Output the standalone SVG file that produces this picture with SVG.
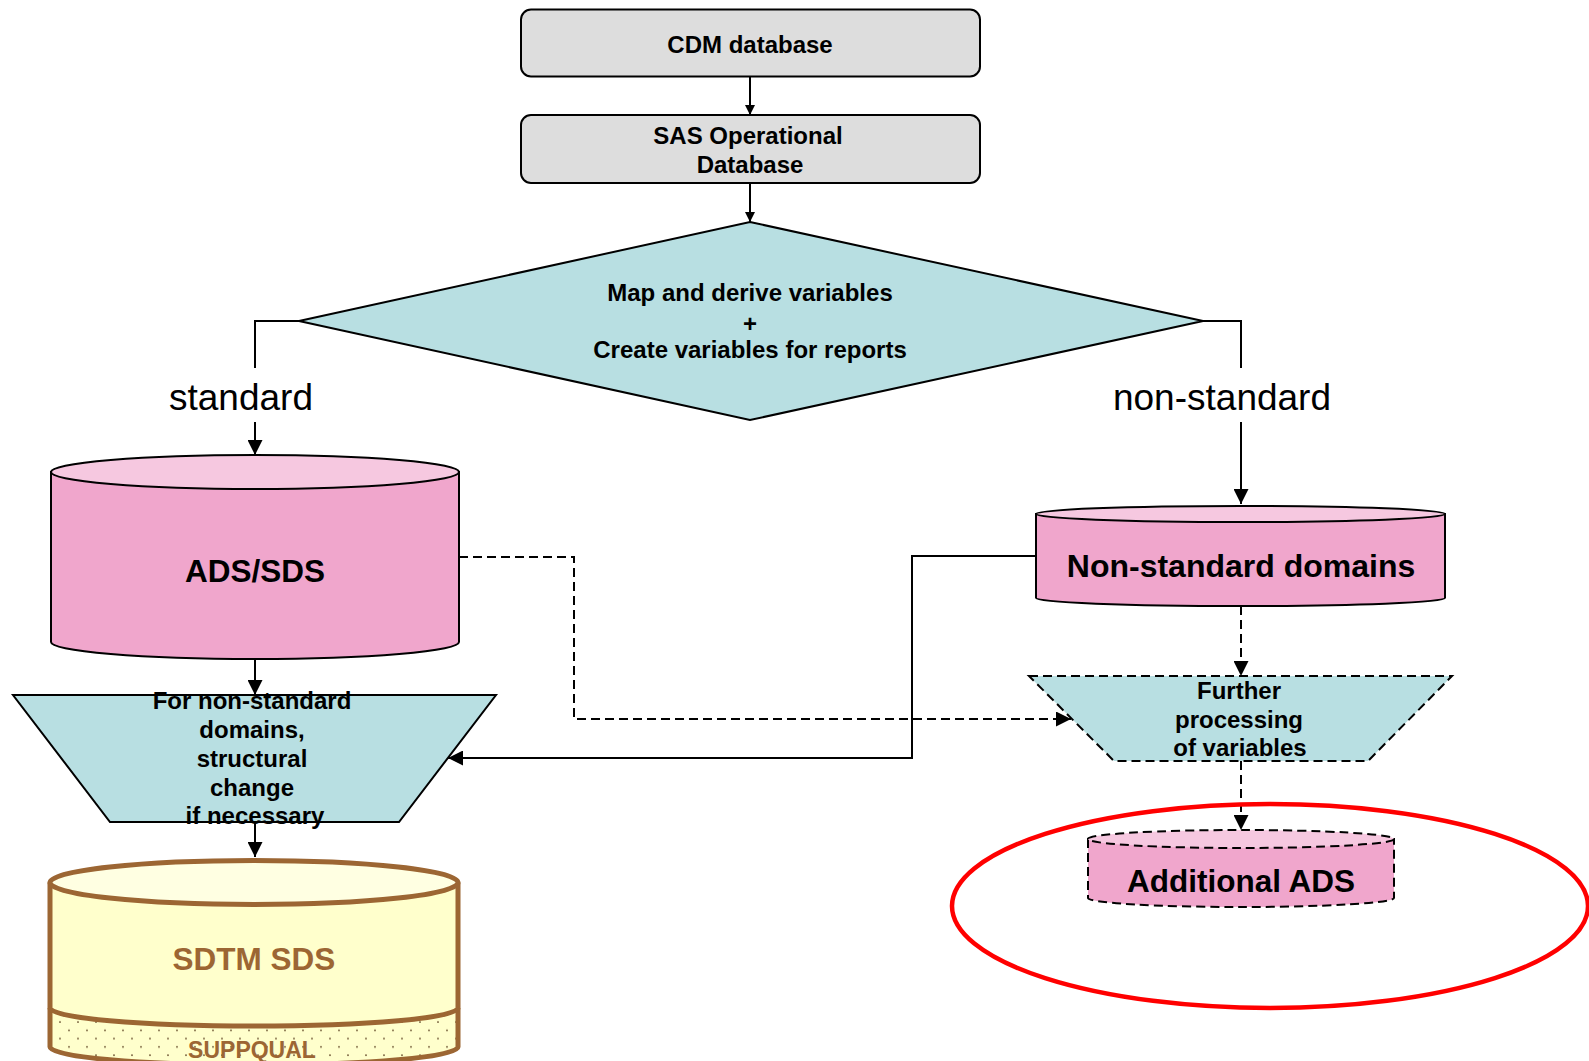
<svg xmlns="http://www.w3.org/2000/svg" width="1589" height="1061" viewBox="0 0 1589 1061">
  <defs>
    <style>
      text { font-family: "Liberation Sans", Arial, sans-serif; text-anchor: middle; fill: #000; }
      .b { font-weight: bold; }
      .t24 { font-size: 24px; }
      .lbl { font-size: 37px; font-weight: normal; }
      .big { font-size: 31.5px; font-weight: bold; }
      .brown { fill: #9C6633; }
      .box { fill: #DDDDDD; stroke: #000; stroke-width: 2; }
      .cyan { fill: #B8DFE2; stroke: #000; stroke-width: 2; }
      .pink { fill: #F0A6CC; stroke: #000; stroke-width: 2; }
      .pinktop { fill: #F6C8E0; stroke: #000; stroke-width: 2; }
      .dash { stroke-dasharray: 9 5; }
      .line { fill: none; stroke: #000; stroke-width: 2; }
      .sdtm { stroke: #9C6633; stroke-width: 5; }
    </style>
    <marker id="ah" viewBox="0 0 10 10" refX="10" refY="5" markerWidth="15" markerHeight="15" markerUnits="userSpaceOnUse" orient="auto">
      <path d="M0,0 L10,5 L0,10 Z" fill="#000"/>
    </marker>
    <marker id="ahs" viewBox="0 0 10 10" refX="10" refY="5" markerWidth="10" markerHeight="10" markerUnits="userSpaceOnUse" orient="auto">
      <path d="M0,0 L10,5 L0,10 Z" fill="#000"/>
    </marker>
    <pattern id="dots" width="18" height="16.6" patternUnits="userSpaceOnUse" x="3" y="1018">
      <rect width="18" height="16.6" fill="#FFFFCC"/>
      <circle cx="3" cy="4" r="0.9" fill="#5a4020"/>
      <circle cx="12" cy="12.3" r="0.9" fill="#5a4020"/>
    </pattern>
  </defs>

  <!-- connectors -->
  <g id="connectors">
    <path class="line" d="M750,77 V115" marker-end="url(#ahs)"/>
    <path class="line" d="M750,183 V222" marker-end="url(#ahs)"/>
    <path class="line" d="M299,321 H255 V368"/>
    <path class="line" d="M255,422 V455" marker-end="url(#ah)"/>
    <path class="line" d="M1203,321 H1241 V368"/>
    <path class="line" d="M1241,422 V504" marker-end="url(#ah)"/>
    <path class="line" d="M255,659 V695" marker-end="url(#ah)"/>
    <path class="line" d="M255,822 V857" marker-end="url(#ah)"/>
    <path class="line dash" d="M459,557 H574 V719 H1071" marker-end="url(#ah)"/>
    <path class="line" d="M1036,556 H912 V758 H448" marker-end="url(#ah)"/>
    <path class="line dash" d="M1241,606 V676" marker-end="url(#ah)"/>
    <path class="line dash" d="M1241,761 V830" marker-end="url(#ah)"/>
    <text class="lbl" x="241" y="410">standard</text>
    <text class="lbl" x="1222" y="410">non-standard</text>
  </g>

  <!-- source systems -->
  <g id="cdm">
    <rect class="box" x="521" y="9.5" width="459" height="67" rx="10"/>
    <text class="b t24" x="750" y="53">CDM database</text>
  </g>
  <g id="sas">
    <rect class="box" x="521" y="115" width="459" height="68" rx="10"/>
    <text class="b t24" x="748" y="143.5">SAS Operational</text>
    <text class="b t24" x="750" y="172.5">Database</text>
  </g>

  <!-- mapping decision -->
  <g id="map">
    <polygon class="cyan" points="750,222 1203,321 750,420 299,321"/>
    <text class="b t24" x="750" y="301">Map and derive variables</text>
    <text class="b t24" x="750" y="331.5">+</text>
    <text class="b t24" x="750" y="358">Create variables for reports</text>
  </g>

  <!-- standard branch -->
  <g id="ads-sds">
    <path class="pink" d="M51,472 V642 A204,17 0 0 0 459,642 V472 Z"/>
    <ellipse class="pinktop" cx="255" cy="472" rx="204" ry="17"/>
    <text class="big" x="255" y="582">ADS/SDS</text>
  </g>
  <g id="restructure">
    <polygon class="cyan" points="13,695 496,695 399,822 110,822"/>
    <text class="b t24" x="252" y="709">For non-standard</text>
    <text class="b t24" x="252" y="738">domains,</text>
    <text class="b t24" x="252" y="767">structural</text>
    <text class="b t24" x="252" y="796">change</text>
    <text class="b t24" x="255" y="824">if necessary</text>
  </g>
  <g id="sdtm-sds">
    <path d="M50,882.5 V1047 A204,18 0 0 0 458,1047 V882.5 Z" fill="#FFFFCC"/>
    <path d="M50,1008 A204,18 0 0 0 458,1008 V1047 A204,18 0 0 1 50,1047 Z" fill="url(#dots)"/>
    <path class="sdtm" fill="none" d="M50,882.5 V1047 A204,18 0 0 0 458,1047 V882.5"/>
    <path class="sdtm" fill="none" d="M50,1008 A204,18 0 0 0 458,1008"/>
    <ellipse class="sdtm" cx="254" cy="882.5" rx="204" ry="22" fill="#FFFFE2"/>
    <text class="big brown" x="254" y="970">SDTM SDS</text>
    <text class="b brown" x="252" y="1058" style="font-size:23px">SUPPQUAL</text>
  </g>

  <!-- non-standard branch -->
  <g id="nonstandard">
    <path class="pink" d="M1036,514 V598 A204.5,8 0 0 0 1445,598 V514 Z"/>
    <ellipse class="pinktop" cx="1240.5" cy="514" rx="204.5" ry="8"/>
    <text class="b" x="1241" y="577" style="font-size:32px">Non-standard domains</text>
  </g>
  <g id="further">
    <polygon class="cyan dash" points="1029,676 1452,676 1368,761 1114,761"/>
    <text class="b t24" x="1239" y="699">Further</text>
    <text class="b t24" x="1239" y="728">processing</text>
    <text class="b t24" x="1240" y="756">of variables</text>
  </g>
  <g id="additional-ads">
    <path class="pink dash" d="M1088,839 V898 A153,9 0 0 0 1394,898 V839 Z"/>
    <ellipse class="pinktop dash" cx="1241" cy="839" rx="153" ry="9"/>
    <text class="big" x="1241" y="892">Additional ADS</text>
  </g>

  <!-- highlight -->
  <g id="highlight">
    <ellipse cx="1270" cy="906" rx="318" ry="102" fill="none" stroke="#FF0000" stroke-width="4.5"/>
  </g>
</svg>
